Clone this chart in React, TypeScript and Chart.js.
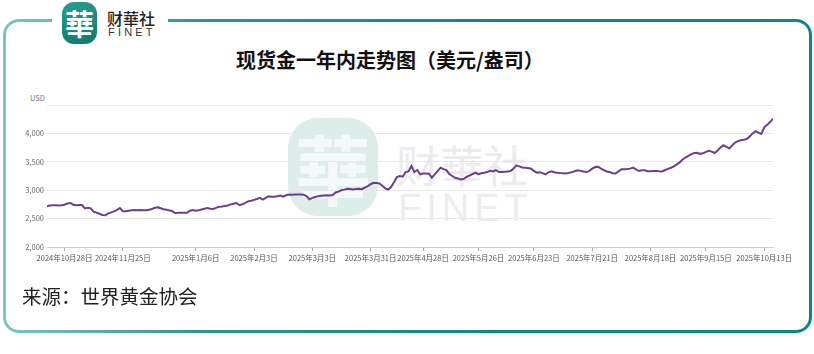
import React, { useEffect, useRef } from "react";
import { Chart, registerables } from "chart.js";

Chart.register(...registerables);

const title = "现货金一年内走势图（美元/盎司）";
const sourceText = "来源：世界黄金协会";
const yUnit = "USD";

// trading-day tick positions and labels
const tickIdx = [6, 26, 51, 71, 91, 111, 129, 148, 167, 187, 207, 226, 246];
const tickLabels = [
  "2024年10月28日", "2024年11月25日", "2025年1月6日", "2025年2月3日", "2025年3月3日",
  "2025年3月31日", "2025年4月28日", "2025年5月26日", "2025年6月23日", "2025年7月21日",
  "2025年8月18日", "2025年9月15日", "2025年10月13日",
];

// spot gold, USD/oz, one value per trading day
const price = [
  2715, 2730, 2733, 2733, 2731, 2736, 2745, 2765, 2775, 2745,
  2735, 2740, 2738, 2680, 2690, 2680, 2620, 2605, 2585, 2565,
  2558, 2590, 2610, 2627, 2655, 2687, 2630, 2630, 2640, 2645,
  2650, 2645, 2650, 2645, 2648, 2655, 2670, 2690, 2698, 2682,
  2665, 2655, 2645, 2630, 2595, 2603, 2603, 2605, 2603, 2640,
  2650, 2640, 2645, 2660, 2675, 2687, 2675, 2669, 2690, 2710,
  2715, 2722, 2730, 2750, 2762, 2775, 2735, 2752, 2775, 2804,
  2815, 2830, 2845, 2864, 2834, 2865, 2893, 2885, 2884, 2895,
  2905, 2888, 2910, 2923, 2922, 2923, 2924, 2923, 2922, 2895,
  2840, 2865, 2880, 2895, 2902, 2908, 2910, 2905, 2915, 2960,
  2975, 3000, 3010, 3024, 3020, 3012, 3020, 3024, 3018, 3045,
  3070, 3105, 3131, 3125, 3118, 3080, 3030, 3012, 3055, 3140,
  3230, 3248, 3237, 3319, 3330, 3426, 3319, 3355, 3278, 3296,
  3296, 3290, 3219, 3278, 3340, 3397, 3370, 3355, 3285, 3250,
  3219, 3205, 3189, 3200, 3237, 3260, 3285, 3308, 3278, 3300,
  3308, 3319, 3340, 3330, 3355, 3320, 3322, 3326, 3330, 3337,
  3380, 3438, 3420, 3400, 3395, 3390, 3379, 3340, 3308, 3315,
  3300, 3278, 3315, 3331, 3315, 3308, 3303, 3300, 3296, 3305,
  3315, 3335, 3349, 3340, 3328, 3319, 3340, 3380, 3408, 3414,
  3380, 3355, 3330, 3319, 3300, 3296, 3330, 3367, 3367, 3372,
  3380, 3397, 3365, 3337, 3350, 3350, 3333, 3335, 3337, 3337,
  3333, 3331, 3355, 3375, 3395, 3420, 3455, 3490, 3540, 3575,
  3605, 3635, 3655, 3660, 3640, 3650, 3675, 3692, 3680, 3655,
  3700, 3750, 3793, 3765, 3735, 3790, 3840, 3865, 3880, 3890,
  3900, 3945, 4000, 4041, 4015, 3990, 4107, 4150, 4200, 4260,
];

const yMin = 2000;
const yMax = 4500;
const yStep = 500;

const CJK = '"Noto Sans CJK SC", "Noto Sans", sans-serif';

export default function App() {
  const ref = useRef<HTMLCanvasElement | null>(null);

  useEffect(() => {
    if (!ref.current) return;
    const chart = new Chart(ref.current, {
      type: "line",
      data: {
        datasets: [
          {
            data: price.map((v, i) => ({ x: i, y: v })),
            borderColor: "#6c3f8e",
            borderWidth: 2,
            pointRadius: 0,
            tension: 0,
            fill: false,
          },
        ],
      },
      options: {
        animation: false,
        responsive: false,
        devicePixelRatio: 1,
        layout: { padding: { top: 105, left: 0, right: 41, bottom: 0 } },
        plugins: { legend: { display: false }, tooltip: { enabled: false } },
        scales: {
          x: {
            type: "linear",
            min: 0,
            max: price.length - 1,
            afterFit: (s: any) => { s.height = 107; },
            afterBuildTicks: (s: any) => { s.ticks = tickIdx.map((v) => ({ value: v })); },
            grid: { drawOnChartArea: false, drawTicks: true, tickLength: 4, color: "#aaaaaa" },
            border: { display: true, color: "#d0d0d0", width: 1 },
            ticks: {
              autoSkip: false,
              maxRotation: 0,
              padding: 3,
              color: "#555555",
              font: { family: CJK, size: 7.5 },
              callback: (v: any) => {
                const k = tickIdx.indexOf(Number(v));
                return k >= 0 ? tickLabels[k] : "";
              },
            },
          },
          y: {
            min: yMin,
            max: yMax,
            afterFit: (s: any) => { s.width = 47; },
            grid: { color: "#e8e8e8", drawTicks: false },
            border: { display: false },
            ticks: {
              stepSize: yStep,
              padding: 3,
              color: "#666666",
              font: { family: CJK, size: 7.5 },
              callback: (v: any) => (Number(v) === yMax ? "" : Number(v).toLocaleString("en-US")),
            },
          },
        },
      },
    });
    return () => chart.destroy();
  }, []);

  return (
    <div style={{ position: "absolute", left: 0, top: 0, width: 814, height: 354, background: "#fff", overflow: "hidden", fontFamily: CJK }}>
      {/* frame */}
      <div style={{ position: "absolute", left: 3, top: 19, width: 809, height: 314, borderRadius: 16, background: "linear-gradient(90deg, #7cc6bf 0%, #2a968c 25%, #12897f 60%, #12877d 100%)" }} />
      <div style={{ position: "absolute", left: 6, top: 22, width: 803, height: 308, borderRadius: 13, background: "#fff" }} />
      {/* logo */}
      <div style={{ position: "absolute", left: 52, top: 0, width: 116, height: 46, background: "#fff" }} />
      <div style={{ position: "absolute", left: 62, top: 2, width: 35, height: 42, borderRadius: 12, background: "linear-gradient(160deg, #2a9c8e, #0f7a6e)", color: "#fff", fontSize: 29, fontWeight: 700, lineHeight: "42px", textAlign: "center", fontFamily: '"Noto Sans CJK TC", sans-serif' }}>華</div>
      <div style={{ position: "absolute", left: 107, top: 9, fontSize: 16, lineHeight: "18px", color: "#222", fontWeight: 500, fontFamily: '"Noto Sans CJK TC", sans-serif' }}>财華社</div>
      <div style={{ position: "absolute", left: 108, top: 26, fontSize: 11, lineHeight: "12px", color: "#333", letterSpacing: 3.2, fontFamily: '"Liberation Sans", Arial, sans-serif' }}>FINET</div>
      {/* watermark */}
      <div style={{ position: "absolute", left: 288, top: 118, width: 90, height: 98, borderRadius: 30, background: "#dcedea", color: "#f4faf9", fontSize: 76, fontWeight: 700, lineHeight: "98px", textAlign: "center", fontFamily: '"Noto Sans CJK TC", sans-serif' }}>華</div>
      <div style={{ position: "absolute", left: 396, top: 138, fontSize: 44, lineHeight: "52px", color: "#ececec", fontFamily: '"Noto Sans CJK TC", sans-serif' }}>财華社</div>
      <div style={{ position: "absolute", left: 398, top: 188, fontSize: 38, lineHeight: "40px", color: "#ededed", letterSpacing: 5, fontFamily: '"Liberation Sans", Arial, sans-serif' }}>FINET</div>
      {/* title */}
      <div style={{ position: "absolute", left: 236, top: 47, fontSize: 20, lineHeight: "26px", fontWeight: 700, color: "#111", whiteSpace: "nowrap" }}>{title}</div>
      <div style={{ position: "absolute", left: 30, top: 93, fontSize: 7.5, lineHeight: "10px", color: "#777" }}>{yUnit}</div>
      <canvas ref={ref} width={814} height={354} style={{ position: "absolute", left: 0, top: 0, width: 814, height: 354 }} />
      <div style={{ position: "absolute", left: 22, top: 283, fontSize: 19.5, lineHeight: "26px", color: "#222", whiteSpace: "nowrap" }}>{sourceText}</div>
    </div>
  );
}
